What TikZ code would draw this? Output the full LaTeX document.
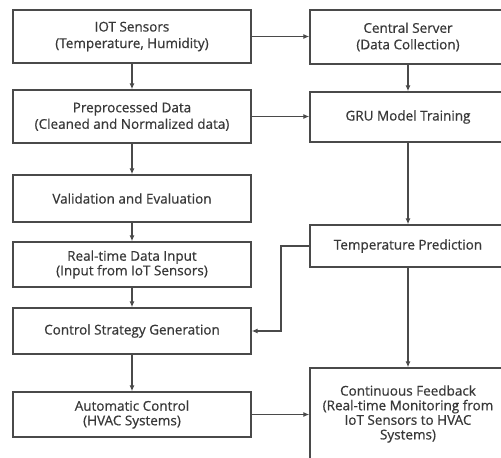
\documentclass[tikz,border=0pt]{standalone}
\usepackage{fontspec}
\setmainfont{Open Sans}
\newfontfamily\boxfont[FakeBold=0.6]{Open Sans}
\usetikzlibrary{arrows.meta}
\definecolor{ln}{HTML}{4A4A4A}
\definecolor{tx}{HTML}{383838}
\begin{document}
\begin{tikzpicture}[x=1pt,y=-1pt,
  box/.style={draw=ln,line width=1.3pt,fill=white,align=center,text=tx,
    font=\boxfont\fontsize{13.5}{14.6}\selectfont,inner sep=0pt},
  widebox/.style={font=\boxfont\fontsize{13.5}{16.5}\selectfont},
  lbox/.style={box,minimum width=238pt},
  rbox/.style={box,minimum width=196pt},
  arr/.style={draw=ln,line width=1.2pt,-{Latex[length=6pt,width=5pt]}}]
\useasboundingbox (0,0) rectangle (501,458);
\clip (0,0) rectangle (501,458);
\fill[white] (0,0) rectangle (501,458);
\node[lbox,widebox,minimum height=53pt] (l1) at (132,36.5) {IOT Sensors\\(Temperature, Humidity)};
\node[lbox,widebox,minimum height=53pt] (l2) at (132,116.5) {Preprocessed Data\\(Cleaned and Normalized data)};
\node[lbox,minimum height=47pt] (l3) at (132,198.5) {Validation and Evaluation};
\node[lbox,minimum height=45pt] (l4) at (132,264.5) {Real-time Data Input\\(Input from IoT Sensors)};
\node[lbox,minimum height=46pt] (l5) at (132,331) {Control Strategy Generation};
\node[lbox,minimum height=45pt] (l6) at (132,414.5) {Automatic Control\\(HVAC Systems)};
\node[rbox,widebox,minimum height=54pt] (r1) at (408,37) {Central Server\\(Data Collection)};
\node[rbox,minimum height=50pt] (r2) at (408,117) {GRU Model Training};
\node[rbox,minimum height=42pt] (r3) at (408,246) {Temperature Prediction};
\node[rbox,minimum height=92pt] (r4) at (408,414) {Continuous Feedback\\(Real-time Monitoring from\\IoT Sensors to HVAC\\Systems)};
\coordinate (k) at (281,246);
\draw[arr] (l1) -- (l2);
\draw[arr] (l2) -- (l3);
\draw[arr] (l3) -- (l4);
\draw[arr] (l4) -- (l5);
\draw[arr] (l5) -- (l6);
\draw[arr] (l1.east) -- (r1.west|-l1.east);
\draw[arr] (l2.east) -- (r2.west|-l2.east);
\draw[arr] (r1) -- (r2);
\draw[arr] (r2) -- (r3);
\draw[arr] (r3) -- (r4);
\draw[arr] (r3.west) -- (k) -- (k|-l5.east) -- (l5.east);
\draw[arr] (l6.east) -- (r4.west|-l6.east);
\end{tikzpicture}
\end{document}
